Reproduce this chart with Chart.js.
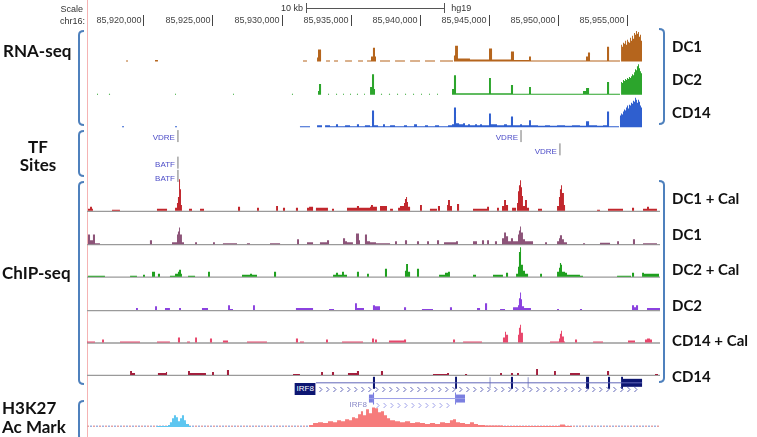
<!DOCTYPE html>
<html>
<head>
<meta charset="utf-8">
<script src="https://cdn.jsdelivr.net/npm/chart.js@4.4.1/dist/chart.umd.min.js"></script>
<style>
  body { margin: 0; background: #fff; }
  #wrap { position: relative; width: 757px; height: 437px; overflow: hidden; font-family: 'Liberation Sans', Arial, sans-serif; }
  #browser { position: absolute; left: 0; top: 0; }
  .lbl { position: absolute; white-space: nowrap; line-height: 1; }
  .big { font-family: Lato, 'Open Sans', sans-serif; font-weight: 700; font-size: 17px; color: #111; }
  .side { font-family: Lato, 'Open Sans', sans-serif; font-weight: 700; font-size: 15px; color: #111; }
  .small { font-size: 9px; color: #333; }
  .tf { font-size: 8px; color: #4d4dc8; }
  .gene2 { font-size: 8px; color: #8a8ac8; }
  .genebox { font-size: 8px; color: #fff; background: #0d1672; padding: 2px 2px; }
</style>
</head>
<body>
<div id="wrap"><canvas id="browser" width="757" height="437"></canvas></div>
<script>
// --- 座標 (kb, chr16) ---
const X_MIN = 85915.87;
const X_MAX = 85957.39;
const tickKb = [85920, 85925, 85930, 85935, 85940, 85945, 85950, 85955];

// --- RNA-seq (開始位置kb, シグナル) ---
const rnaDC1 = [
  [85918.70,1],[85918.84,0],[85920.80,1.5],[85921.01,0],[85931.52,1],[85931.81,0],
  [85932.54,4],[85932.61,12],[85932.83,0],
  [85933.19,1],[85933.48,0],[85933.77,1],[85934.06,0],[85934.57,1],[85935.07,0],[85935.51,1],[85935.87,0],
  [85936.16,1],[85936.45,5],[85936.59,14],[85936.74,5],[85936.81,0],
  [85937.10,1],[85937.83,0],[85938.19,1],[85938.91,0],[85939.28,1],[85940.00,0],[85940.36,1],[85941.09,0],[85941.45,1],[85942.39,0],
  [85942.46,6],[85942.54,16],[85942.75,3],[85943.62,2],
  [85945.00,13],[85945.22,2],[85946.59,10],[85946.81,1.5],[85947.90,5],[85948.04,1],
  [85952.03,5],[85952.17,9],[85952.32,1],[85953.55,15],[85953.70,1],[85954.49,0],
  [85954.57,17],[85954.64,15],[85954.71,19],[85954.78,18],[85954.86,21],[85954.93,17],[85955.00,22],
  [85955.07,20],[85955.14,19],[85955.22,24],[85955.29,21],[85955.36,26],[85955.43,23],[85955.51,29],
  [85955.58,27],[85955.65,31],[85955.72,28],[85955.80,30],[85955.87,25],[85955.94,27],[85956.01,21],[85956.09,0]
];
const rnaDC2 = [
  [85916.59,1],[85916.67,0],[85917.46,1],[85917.54,0],[85922.25,1],[85922.32,0],[85926.45,1],[85926.52,0],
  [85930.72,1],[85930.80,0],[85932.61,4],[85932.68,11],[85932.83,0],
  [85933.33,1],[85933.41,0],[85933.91,1],[85933.99,0],[85934.42,1],[85934.49,0],[85934.93,1],[85935.00,0],
  [85935.43,1],[85935.51,0],[85935.94,1],[85936.01,0],
  [85936.38,8],[85936.52,21],[85936.67,6],[85936.74,0],
  [85937.17,1],[85937.25,0],[85937.75,1],[85937.83,0],[85938.33,1],[85938.41,0],[85938.91,1],[85938.99,0],
  [85939.49,1],[85939.57,0],[85940.07,1],[85940.14,0],[85940.65,1],[85940.72,0],[85941.23,1],[85941.30,0],
  [85942.32,6],[85942.46,20],[85942.61,1.5],[85945.00,17],[85945.14,1.5],[85946.59,10],[85946.74,1],
  [85947.90,8],[85948.04,1],[85951.81,4],[85952.03,7],[85952.25,1],[85953.55,13],[85953.70,1],[85954.49,0],
  [85954.57,13],[85954.64,12],[85954.71,15],[85954.78,14],[85954.86,16],[85954.93,15],[85955.00,17],
  [85955.07,16],[85955.14,18],[85955.22,17],[85955.29,19],[85955.36,21],[85955.43,20],[85955.51,23],
  [85955.58,26],[85955.65,25],[85955.72,29],[85955.80,31],[85955.87,27],[85955.94,24],[85956.01,22],[85956.09,0]
];
const rnaCD14 = [
  [85918.41,1],[85918.55,0],[85922.25,1],[85922.39,0],[85931.30,1],[85932.03,0],[85932.54,2],[85932.90,0],
  [85933.12,2],[85933.48,1],[85933.91,3],[85934.06,1],[85934.57,2],[85934.93,1],[85935.43,3],[85935.58,1],
  [85936.01,2],[85936.38,1],[85936.52,17],[85936.67,2],
  [85936.96,1],[85937.32,3],[85937.46,1],[85937.83,2],[85938.19,1],[85938.84,2],[85939.06,1],[85939.57,3],
  [85939.78,1],[85940.36,2],[85940.58,1],[85941.09,2],[85941.38,1],[85942.03,2],[85942.32,3],
  [85942.46,20],[85942.61,4],[85942.83,3],[85943.12,4],[85943.26,2],[85943.48,3],[85943.62,2],[85943.99,3],
  [85944.13,2],[85944.35,3],[85944.49,2],[85944.86,2],
  [85945.00,14],[85945.14,3],[85945.58,2],[85946.09,3],[85946.30,2],[85946.59,11],[85946.74,2],[85947.25,3],
  [85947.39,2],[85947.90,7],[85948.04,2],[85948.55,1.5],[85949.06,2],[85949.42,1.5],[85949.93,2],[85950.51,1.5],
  [85951.01,2],[85951.59,1.5],[85952.03,6],[85952.25,2],[85952.83,1.5],[85953.26,2],[85953.55,16],[85953.70,1],
  [85954.42,0],
  [85954.49,12],[85954.57,14],[85954.64,13],[85954.71,16],[85954.78,18],[85954.86,17],[85954.93,20],
  [85955.00,22],[85955.07,19],[85955.14,23],[85955.22,22],[85955.29,25],[85955.36,24],[85955.43,27],
  [85955.51,26],[85955.58,30],[85955.65,28],[85955.72,25],[85955.80,28],[85955.87,26],[85955.94,22],
  [85956.01,20],[85956.09,0]
];

// --- ChIP-seq ---
const chipDC1Cal = [
  [85915.94,2],[85916.09,4],[85916.23,2],[85916.30,0],[85917.68,1],[85918.26,0],[85920.94,2],[85921.67,0],
  [85922.25,3],[85922.39,8],[85922.46,14],[85922.54,32],[85922.61,22],[85922.68,6],[85922.75,0],
  [85923.26,2],[85923.48,0],[85924.06,2],[85924.35,0],[85926.81,4],[85926.96,0],[85928.19,3],[85928.33,0],
  [85929.57,5],[85929.71,0],[85930.07,3],[85930.22,0],[85931.01,3],[85931.16,0],
  [85931.81,3],[85931.96,4],[85932.25,0],[85932.46,3],[85933.33,0],[85933.62,2],[85933.77,0],
  [85934.71,3],[85935.43,5],[85935.58,3],[85936.38,4],[85936.45,6],[85936.59,4],[85936.88,0],
  [85937.10,5],[85937.61,0],[85937.83,2],[85938.04,0],
  [85938.41,3],[85938.55,5],[85938.84,8],[85938.91,12],[85938.99,14],[85939.06,9],[85939.13,4],[85939.28,0],
  [85940.00,6],[85940.14,0],[85940.72,2],[85941.23,0],[85941.30,5],[85941.45,0],
  [85941.96,6],[85942.03,11],[85942.17,5],[85942.32,0],[85942.68,7],[85942.83,0],
  [85943.84,2],[85944.86,4],[85945.00,0],[85945.58,3],[85945.72,0],
  [85945.94,5],[85946.09,11],[85946.23,6],[85946.38,0],[85946.67,3],[85946.96,0],
  [85947.03,8],[85947.10,20],[85947.17,26],[85947.25,31],[85947.32,24],[85947.39,15],[85947.46,5],
  [85947.61,11],[85947.75,3],[85947.90,0],[85948.55,2],[85948.84,0],
  [85949.93,5],[85950.07,14],[85950.14,22],[85950.22,26],[85950.29,18],[85950.43,6],[85950.51,0],
  [85952.83,1],[85953.04,0],[85953.62,2],[85954.71,0],[85955.36,3],[85955.51,0],
  [85956.16,2],[85956.45,4],[85956.59,2],[85957.17,0]
];
const chipDC1 = [
  [85915.94,10],[85916.09,4],[85916.30,10],[85916.45,1],[85916.81,0],[85920.43,4],[85920.58,0],
  [85922.03,2],[85922.39,10],[85922.46,13],[85922.54,17],[85922.61,10],[85922.75,2],[85922.90,0],
  [85923.70,2],[85923.84,0],[85925.00,2],[85925.14,0],[85925.72,1],[85926.74,0],[85927.46,1],[85927.68,0],
  [85929.13,1],[85929.86,0],[85931.09,5],[85931.23,0],[85931.81,2],[85932.25,0],
  [85932.75,2],[85933.26,4],[85933.41,0],[85934.42,6],[85934.57,3],[85934.71,2],[85935.14,0],
  [85935.36,11],[85935.58,4],[85935.65,0],[85936.01,10],[85936.16,3],[85936.38,2],[85936.81,1],[85937.83,0],
  [85938.19,3],[85938.33,0],[85938.91,4],[85939.06,0],[85939.78,3],[85939.93,0],[85940.51,3],[85940.65,0],
  [85941.23,4],[85941.38,0],[85941.74,2],[85942.61,3],[85942.75,0],[85943.84,3],[85944.13,0],
  [85944.49,4],[85944.64,0],[85944.86,4],[85945.00,0],[85945.43,3],[85945.58,0],
  [85945.94,6],[85946.09,12],[85946.23,8],[85946.38,3],[85946.59,6],[85946.74,3],
  [85947.10,10],[85947.17,14],[85947.25,18],[85947.32,12],[85947.46,5],[85947.61,3],[85948.19,0],
  [85949.06,2],[85949.20,0],[85949.93,3],[85950.07,6],[85950.14,9],[85950.29,5],[85950.43,2],[85950.65,0],
  [85951.81,1],[85951.96,0],[85953.04,1.5],[85953.77,0],[85954.28,3],[85954.42,0],[85955.43,5],[85955.58,0],
  [85956.16,1],[85957.17,0]
];
const chipDC2Cal = [
  [85915.94,1],[85917.17,0],[85918.99,1],[85919.49,0],[85919.93,2],[85920.07,0],[85920.58,5],[85920.80,0],
  [85921.01,3],[85921.16,0],[85921.88,1],[85922.25,3],[85922.46,5],[85922.54,7],[85922.68,3],[85922.75,0],
  [85923.19,1],[85923.70,0],[85924.64,5],[85924.78,0],[85927.10,2],[85927.68,3],[85927.83,2],[85928.19,0],
  [85929.42,5],[85929.57,0],[85933.70,2],[85933.91,4],[85934.06,2],[85934.35,5],[85934.49,2],[85934.71,0],
  [85935.43,5],[85935.58,0],[85936.16,3],[85936.30,0],[85937.46,8],[85937.61,0],
  [85938.91,6],[85938.99,13],[85939.13,5],[85939.28,0],[85939.78,8],[85939.93,0],
  [85941.38,2],[85941.81,4],[85942.03,5],[85942.17,0],[85943.84,2],[85944.06,0],
  [85945.29,2],[85946.01,0],[85946.23,4],[85946.38,0],
  [85946.96,3],[85947.10,10],[85947.17,25],[85947.25,30],[85947.32,12],[85947.46,6],[85947.61,3],[85947.83,0],
  [85948.70,3],[85948.84,0],
  [85949.93,5],[85950.07,9],[85950.14,14],[85950.22,12],[85950.29,5],[85950.51,4],[85950.65,2],[85951.59,1],[85951.81,0],
  [85954.28,1],[85955.29,0],[85955.36,4],[85955.51,0],[85956.09,4],[85956.23,3],[85957.32,0]
];
const chipDC2 = [
  [85919.42,2],[85919.56,0],[85920.80,4],[85920.94,0],[85921.52,2],[85921.88,0],[85922.54,2],[85922.68,0],
  [85924.20,2],[85924.64,0],[85926.09,5],[85926.23,1],[85926.45,0],[85927.90,5],[85928.04,0],
  [85931.01,2],[85932.25,0],[85933.41,1],[85933.77,0],[85935.29,7],[85935.43,2],[85935.94,0],
  [85936.59,5],[85936.74,4],[85937.10,0],[85938.84,3],[85938.99,0],[85940.14,1],[85940.94,0],
  [85942.17,3],[85942.32,0],[85944.13,2],[85944.35,0],[85944.71,7],[85944.86,0],[85945.80,1],[85946.16,0],
  [85946.74,3],[85947.10,5],[85947.17,12],[85947.25,18],[85947.32,11],[85947.39,4],[85947.54,2],[85948.04,0],
  [85949.93,1],[85950.07,0],[85951.59,1],[85951.74,0],
  [85955.36,5],[85955.51,3],[85955.65,5],[85955.80,0],[85956.45,2],[85957.39,0]
];
const chipCD14Cal = [
  [85915.87,1],[85916.45,0],[85916.96,3],[85917.10,0],[85918.26,1],[85919.71,0],[85920.94,1],[85921.88,0],
  [85922.46,5],[85922.61,0],[85923.12,1],[85923.33,0],[85923.70,5],[85923.84,0],[85924.78,4],[85924.93,0],
  [85925.72,2],[85926.09,0],[85927.46,1],[85928.91,0],[85931.01,4],[85931.16,0],[85931.30,1],[85931.59,0],
  [85933.19,3],[85933.33,0],[85934.35,1],[85935.87,0],[85936.52,4],[85936.67,0],[85936.74,3],[85936.88,0],
  [85937.75,2],[85938.84,3],[85938.99,0],[85942.39,3],[85942.54,0],[85943.12,1],[85944.49,0],
  [85946.01,5],[85946.16,11],[85946.23,8],[85946.38,0],
  [85947.10,8],[85947.17,15],[85947.25,18],[85947.32,10],[85947.46,0],
  [85949.42,1],[85950.07,4],[85950.14,9],[85950.22,12],[85950.29,6],[85950.43,1],[85950.51,0],
  [85951.23,3],[85951.38,0],[85952.54,1],[85953.26,0],[85955.07,2],[85955.58,0],
  [85956.30,3],[85956.45,4],[85956.67,3],[85956.81,0]
];
const chipCD14 = [
  [85918.99,4],[85919.13,2],[85919.35,0],[85921.01,2],[85921.59,3],[85921.67,0],
  [85923.19,4],[85923.33,2],[85924.49,0],[85924.93,3],[85925.07,0],[85926.01,5],[85926.16,0],
  [85930.80,1],[85931.30,0],[85932.83,3],[85932.97,0],[85933.62,3],[85933.77,0],
  [85934.78,2],[85935.43,4],[85935.58,0],[85937.17,4],[85937.32,0],[85940.94,1],[85941.96,2],[85942.10,0],
  [85943.26,1],[85943.41,0],[85945.80,2],[85945.94,0],[85946.59,2],[85946.74,0],[85947.03,2],[85947.17,0],
  [85948.41,6],[85948.55,0],[85949.71,4],[85949.85,0],[85950.87,2],[85951.59,0],[85953.55,4],[85953.70,0],
  [85957.03,1],[85957.25,0]
];

// --- H3K27 Ac ---
const h3k27Blue = [
  [85920.94,1],[85921.74,2],[85921.88,5],[85922.03,9],[85922.17,12],[85922.32,10],[85922.46,6],
  [85922.61,9],[85922.75,12],[85922.90,7],[85923.04,3],[85923.26,1],[85923.41,0]
];
const h3k27Dark = [
  [85922.32,2],[85922.46,4],[85922.61,6],[85922.75,7],[85922.90,4],[85923.04,2],[85923.26,0]
];
const h3k27Red = [
  [85931.96,2],[85932.25,4],[85932.61,5],[85932.97,4],[85933.33,6],[85933.70,5],[85933.99,7],[85934.28,6],
  [85934.57,8],[85934.86,7],[85935.07,10],[85935.29,9],[85935.51,13],[85935.72,16],[85935.87,12],[85936.09,18],
  [85936.30,14],[85936.52,20],[85936.74,19],[85936.96,15],[85937.17,16],[85937.39,12],[85937.61,9],[85937.83,7],
  [85938.19,6],[85938.55,5],[85938.91,6],[85939.28,4],[85939.64,5],[85940.00,4],[85940.36,3],[85940.72,4],
  [85941.09,3],[85941.45,5],[85941.81,4],[85942.17,7],[85942.39,8],[85942.61,5],[85942.90,4],[85943.26,3],
  [85943.62,5],[85943.91,3],[85944.20,2],[85944.71,1.5],[85946.00,1],[85950.14,2.5],[85950.51,1],[85951.01,0]
];

// --- TF結合部位 ---
const vdreSites = [85922.46, 85947.32, 85950.14];
const batfSites = [85922.46, 85922.46];

// --- IRF8 遺伝子 ---
const irf8aSpan = [85932.46, 85956.09];
const irf8aExons = [[85936.59,85936.74],[85942.54,85942.68],[85946.59,85946.74],[85952.03,85952.25],[85953.62,85953.77],[85954.57,85954.71]];
const irf8aMinor = [[85945.04,85945.11],[85947.80,85947.87]];
const irf8aUtr = [[85954.64,85956.09]];
const irf8bSpan = [85936.30, 85943.26];
const irf8bExons = [[85936.59,85936.67],[85942.54,85942.61]];
const irf8bUtr = [[85936.30,85936.59],[85942.61,85943.26]];

// ---------------------------------------------------------------
const BOTTOM = 437;               // y値0のピクセル位置
const lvl = px => BOTTOM - px;    // ピクセル -> y値

const signalTracks = [
  { data: rnaDC1, color: '#b5651d', base: 62, span: 31, max: 31 },
  { data: rnaDC2, color: '#2ca52c', base: 96, span: 31, max: 31 },
  { data: rnaCD14, color: '#2f5fcf', base: 129, span: 31, max: 31 },
  { data: chipDC1Cal, color: '#c1272d', base: 214, span: 32, max: 32, line: true },
  { data: chipDC1, color: '#8d5479', base: 248, span: 32, max: 32, line: true },
  { data: chipDC2Cal, color: '#1f9f1f', base: 281, span: 32, max: 32, line: true },
  { data: chipDC2, color: '#8b42df', base: 315, span: 32, max: 32, line: true },
  { data: chipCD14Cal, color: '#e8476c', base: 348, span: 32, max: 32, line: true },
  { data: chipCD14, color: '#a3203e', base: 381, span: 32, max: 32, line: true },
  { data: h3k27Red, color: '#f67c7c', base: 434, span: 22, max: 22 },
  { data: h3k27Blue, color: '#5ec6f0', base: 434, span: 22, max: 22 },
  { data: h3k27Dark, color: '#6a5b68', base: 434, span: 22, max: 22 }
];

const datasets = [];

signalTracks.forEach(t => {
  const b = lvl(t.base);
  datasets.push({
    data: t.data.map(([x, v]) => ({ x, y: b + v * t.span / t.max })),
    stepped: 'before', borderWidth: 0, borderColor: 'rgba(0,0,0,0)', pointRadius: 0,
    backgroundColor: t.color, fill: { value: b }, order: 2
  });
  if (t.line) {
    datasets.push({
      data: [{ x: X_MIN, y: b - 0.5 }, { x: X_MAX, y: b - 0.5 }],
      borderColor: '#9a9a9a', borderWidth: 1.3, pointRadius: 0, fill: false, order: 3
    });
  }
});

// H3K27 ベースラインの点線
[['#e6a3a3', 0], ['#9fb2e0', 3]].forEach(([c, off]) => {
  datasets.push({
    data: [{ x: X_MIN, y: lvl(434) + 0.7 }, { x: X_MAX, y: lvl(434) + 0.7 }],
    borderColor: c, borderWidth: 1.5, borderDash: [2, 4], borderDashOffset: off,
    pointRadius: 0, fill: false, order: 4
  });
});

// 遺伝子モデル
function seg(x0, x1, ypx, w, color, order) {
  return {
    data: [{ x: x0, y: lvl(ypx) }, { x: x1, y: lvl(ypx) }],
    borderColor: color, borderWidth: w, borderCapStyle: 'butt',
    pointRadius: 0, fill: false, order: order || 1
  };
}
const GENE_A = '#0d1672', GENE_A_LINE = '#6066b8';
const GENE_B = '#7b7fe0', GENE_B_LINE = '#9c9fe8';
const Y_A = 389, Y_B = 405;
datasets.push(seg(irf8aSpan[0], irf8aSpan[1], Y_A, 1, GENE_A_LINE));
irf8aExons.forEach(e => datasets.push(seg(e[0], e[1], Y_A, 12, GENE_A, 0)));
irf8aMinor.forEach(e => datasets.push(seg(e[0], e[1], Y_A, 11, '#8a8fc8', 0)));
irf8aUtr.forEach(e => datasets.push(seg(e[0], e[1], Y_A, 8, GENE_A, 0)));
datasets.push(seg(irf8bSpan[0], irf8bSpan[1], Y_B, 1, GENE_B_LINE));
irf8bExons.forEach(e => datasets.push(seg(e[0], e[1], Y_B, 12, GENE_B, 0)));
irf8bUtr.forEach(e => datasets.push(seg(e[0], e[1], Y_B, 8, GENE_B, 0)));

// TF部位: 行に詰める
const ROW_Y = [138, 151.5, 165, 178.5];
const LABEL_KB = 2.2, GAP_KB = 1.0;
const tfFeatures = [];
let rowStart = 0;
[['VDRE', vdreSites], ['BATF', batfSites]].forEach(([name, sites]) => {
  const rows = [];
  sites.forEach(pos => {
    let r = 0;
    while (rows[r] !== undefined && rows[r] + GAP_KB > pos - LABEL_KB) r++;
    rows[r] = pos;
    tfFeatures.push({ name, pos, row: rowStart + r });
  });
  rowStart += rows.length;
});
datasets.push({
  data: tfFeatures.map(f => ({ x: f.pos, y: lvl(ROW_Y[f.row]) })),
  showLine: false, pointStyle: 'line', pointRadius: 6, pointRotation: 90,
  pointBorderColor: '#777', pointBorderWidth: 1, order: 0
});

// --- 装飾プラグイン ---
function bracket(ctx, x, y0, y1, dir) {
  ctx.beginPath();
  ctx.moveTo(x + dir * 5, y0);
  ctx.quadraticCurveTo(x, y0, x, y0 + 4);
  ctx.lineTo(x, y1 - 4);
  ctx.quadraticCurveTo(x, y1, x + dir * 5, y1);
  ctx.stroke();
}
function chevrons(ctx, xs, span, y, color) {
  const a = xs.getPixelForValue(span[0]) + 5;
  const b = xs.getPixelForValue(span[1]) - 4;
  ctx.strokeStyle = color; ctx.lineWidth = 1;
  ctx.beginPath();
  for (let p = a; p < b; p += 7) {
    ctx.moveTo(p - 1.5, y - 2.5);
    ctx.lineTo(p + 1, y);
    ctx.lineTo(p - 1.5, y + 2.5);
  }
  ctx.stroke();
}
const decor = {
  id: 'decor',
  beforeDatasetsDraw(chart) {
    const { ctx, chartArea } = chart;
    ctx.save();
    ctx.strokeStyle = '#f5b3b3'; ctx.lineWidth = 1;
    ctx.beginPath();
    ctx.moveTo(chartArea.left + 0.5, 0); ctx.lineTo(chartArea.left + 0.5, chart.height);
    ctx.stroke();
    ctx.restore();
  },
  afterDatasetsDraw(chart) {
    const { ctx, scales: { x } } = chart;
    ctx.save();
    chevrons(ctx, x, irf8aSpan, Y_A + 0.5, GENE_A_LINE);
    chevrons(ctx, x, [irf8bSpan[0] + 0.3, irf8bSpan[1] - 0.7], Y_B + 0.5, GENE_B_LINE);

    // スケールバー 10 kb
    const s0 = x.getPixelForValue(85931.75), s1 = x.getPixelForValue(85941.75);
    ctx.strokeStyle = '#555'; ctx.lineWidth = 1;
    ctx.beginPath();
    ctx.moveTo(s0, 8.5); ctx.lineTo(s1, 8.5);
    ctx.moveTo(Math.round(s0) + 0.5, 3); ctx.lineTo(Math.round(s0) + 0.5, 13);
    ctx.moveTo(Math.round(s1) + 0.5, 3); ctx.lineTo(Math.round(s1) + 0.5, 13);
    ctx.stroke();

    // 括弧
    ctx.strokeStyle = '#4f81bd'; ctx.lineWidth = 2;
    bracket(ctx, 79, 31, 125, 1);
    bracket(ctx, 79, 131, 176, 1);
    bracket(ctx, 79, 182, 384, 1);
    bracket(ctx, 79, 401, 440, 1);
    bracket(ctx, 664, 29, 124, -1);
    bracket(ctx, 664, 181, 382, -1);
    ctx.restore();
  }
};

const chart = new Chart(document.getElementById('browser'), {
  type: 'line',
  data: { datasets },
  plugins: [decor],
  options: {
    responsive: false, animation: false, devicePixelRatio: 1, events: [],
    layout: { padding: { left: 87, right: 97, top: 0, bottom: 0 } },
    plugins: { legend: { display: false }, tooltip: { enabled: false } },
    scales: {
      x: {
        type: 'linear', position: 'top', min: X_MIN, max: X_MAX,
        afterFit: s => { s.height = 26; },
        afterBuildTicks: s => { s.ticks = tickKb.map(v => ({ value: v })); },
        border: { display: false },
        grid: { drawOnChartArea: false, drawTicks: true, tickLength: 11, tickColor: '#444', tickWidth: 1 },
        ticks: {
          align: 'end', padding: -11, autoSkip: false, maxRotation: 0,
          color: '#444', font: { family: 'Liberation Sans', size: 9 },
          callback: v => Math.round(v * 1000).toLocaleString('en-US') + ' '
        }
      },
      y: { type: 'linear', min: 0, max: BOTTOM - 26, display: false }
    }
  }
});

// --- テキストラベル ---
const wrap = document.getElementById('wrap');
function addText(txt, cls, x, y, anchor) {
  const d = document.createElement('div');
  d.className = 'lbl ' + cls;
  d.textContent = txt;
  d.style.left = x + 'px';
  d.style.top = y + 'px';
  const tx = anchor === 'right' ? '-100%' : anchor === 'center' ? '-50%' : '0';
  d.style.transform = `translate(${tx}, -50%)`;
  wrap.appendChild(d);
}

addText('Scale', 'small', 83, 9, 'right');
addText('chr16:', 'small', 85, 21, 'right');
const xs = chart.scales.x;
addText('10 kb', 'small', xs.getPixelForValue(85931.75) - 3, 8, 'right');
addText('hg19', 'small', xs.getPixelForValue(85941.75) + 7, 8, 'left');

addText('RNA-seq', 'big', 3, 50, 'left');
addText('TF', 'big', 38, 146, 'center');
addText('Sites', 'big', 38, 164, 'center');
addText('ChIP-seq', 'big', 2, 272, 'left');
addText('H3K27', 'big', 2, 407, 'left');
addText('Ac Mark', 'big', 2, 426, 'left');

[['DC1', 46], ['DC2', 79], ['CD14', 112]].forEach(([t, y]) => addText(t, 'side', 672, y, 'left'));
[['DC1 + Cal', 198], ['DC1', 233.5], ['DC2 + Cal', 269], ['DC2', 304.5], ['CD14 + Cal', 340], ['CD14', 375.5]]
  .forEach(([t, y]) => addText(t, 'side', 672, y, 'left'));

tfFeatures.forEach(f => addText(f.name, 'tf', xs.getPixelForValue(f.pos) - 3, ROW_Y[f.row], 'right'));
addText('IRF8', 'genebox', xs.getPixelForValue(irf8aSpan[0]), Y_A, 'right');
addText('IRF8', 'gene2', xs.getPixelForValue(irf8bSpan[0]) - 2, Y_B, 'right');
</script>
</body>
</html>
